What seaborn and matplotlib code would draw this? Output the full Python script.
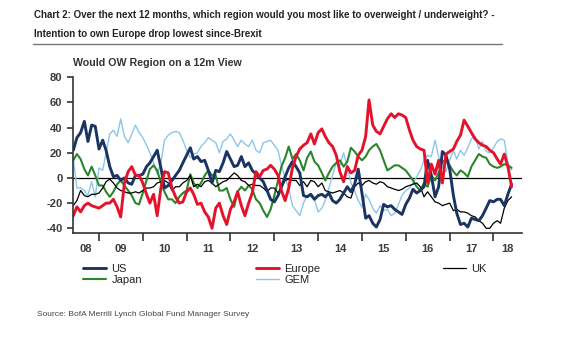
import matplotlib
matplotlib.use("Agg")
import matplotlib.pyplot as plt
import matplotlib.dates as mdates
from matplotlib.lines import Line2D
import pandas as pd
import seaborn as sns

# ---------------- data (monthly, Jun 2008 - Jun 2018) ----------------
dates = pd.date_range("2008-06-01", periods=121, freq="MS")

US = [22, 32, 36, 45, 29, 42, 41, 23, 30, 22,
      9, 1, 2, -2, 0, -4, -5, 2, 2, 3,
      9, 12, 17, 22, 8, -8, -6, -2, 2, 6,
      12, 18, 24, 15, 17, 13, 14, 6, -4, 6,
      5, 12, 21, 15, 9, 10, 17, 9, 12, 6,
      3, 0, -3, -10, -17, -19, -14, -7, 1, 8,
      13, 9, 4, -14, -15, -13, -17, -14, -13, -15,
      -12, -18, -20, -17, -12, -7, -11, -5, 7, -12,
      -32, -30, -36, -39, -33, -21, -23, -22, -25, -27,
      -29, -21, -16, -9, -12, -10, -7, 14, 2, -15,
      -7, 21, 18, 7, -14, -28, -37, -36, -39, -32,
      -33, -34, -30, -24, -18, -19, -17, -17, -22, -13, -5]

Europe = [-30, -23, -27, -22, -20, -22, -23, -24, -22, -20,
          -20, -17, -23, -31, -4, 5, 9, 2, 2, -4,
          -13, -20, -13, -30, -8, 5, 4, -8, -15, -20,
          -19, -11, -8, -13, -21, -20, -27, -31, -40, -24,
          -20, -30, -37, -25, -19, -11, -22, -30, -20, -12,
          5, 1, 6, 7, 10, 7, 2, -10, -18, -8,
          8, 17, 23, 26, 28, 35, 27, 36, 39, 33,
          28, 25, 18, 5, -3, 9, 4, 6, 18, 22,
          33, 62, 42, 37, 35, 41, 47, 51, 48, 51,
          50, 48, 38, 30, 25, 23, 22, -4, 11, 3,
          14, -4, 19, 21, 23, 29, 34, 46, 41, 36,
          31, 28, 26, 25, 22, 20, 15, 11, 19, 9, -7]

UK = [-22, -18, -10, -14, -15, -13, -13, -12, -8, -3,
      -1, -4, -8, -10, -11, -12, -12, -11, -12, -10,
      -8, -8, -7, -4, -3, -2, -4, -10, -7, -7,
      -4, -2, 2, -7, -5, -7, -3, -2, -4, -7,
      -5, -3, -2, 1, 4, 2, -2, -3, -6, -5,
      -6, -6, -8, -11, -8, -8, -12, -8, -2, -1,
      -2, -2, -6, -3, -7, -2, -3, -7, -4, -10,
      -11, -12, -11, -10, -12, -15, -16, -7, -4, -6,
      -3, -2, -4, -5, -3, -4, -7, -8, -9, -10,
      -9, -7, -6, -5, -4, -7, -15, -11, -15, -19,
      -20, -22, -21, -20, -26, -25, -27, -27, -28, -30,
      -31, -34, -36, -40, -40, -36, -34, -36, -24, -18, -15]

Japan = [14, 19, 15, 7, 2, 9, 2, -6, -6, -11,
         -15, -11, -5, -2, -6, -10, -14, -20, -21, -12,
         -2, 7, 10, 6, -4, -11, -17, -17, -20, -15,
         -12, -10, 3, -4, -8, -4, 2, 6, 2, 2,
         -10, -10, -8, -17, -23, -11, -7, -10, -6, -9,
         -17, -20, -26, -31, -25, -14, -2, 9, 16, 25,
         15, 19, 14, 6, 16, 21, 13, 10, 4, -2,
         4, 9, 12, 14, 9, 13, 24, 21, 17, 14,
         17, 22, 25, 27, 22, 14, 6, 8, 10, 10,
         8, 6, 2, -2, -7, -10, -4, -7, 2, -2,
         4, 13, 14, 10, 5, 2, 6, 4, 1, 9,
         14, 19, 17, 16, 11, 9, 8, 9, 11, 10, 8]

GEM = [15, -8, -8, -10, -14, -3, -15, 8, 6, 20,
       35, 38, 33, 47, 33, 28, 35, 42, 36, 32,
       26, 20, 12, 3, 12, 30, 34, 36, 37, 36,
       30, 22, 16, 19, 20, 25, 28, 32, 30, 28,
       20, 29, 31, 35, 30, 25, 30, 27, 25, 30,
       22, 20, 28, 29, 30, 26, 22, 10, 0, -8,
       -22, -26, -30, -20, -14, -15, -17, -27, -24, -18,
       -8, 2, 12, 10, 20, 9, -4, -10, -18, -23,
       -13, -17, -24, -28, -22, -26, -25, -30, -28, -21,
       -14, -10, -8, -4, 1, 6, 14, 18, 17, 30,
       17, 8, 5, 14, 22, 15, 22, 18, 24, 31,
       33, 23, 29, 21, 20, 24, 29, 31, 30, 12, 6]

year_labels = ["08", "09", "10", "11", "12", "13", "14", "15", "16", "17", "18"]
y_ticks = [-40, -20, 0, 20, 40, 60, 80]

title_1 = "Chart 2: Over the next 12 months, which region would you most like to overweight / underweight? -"
title_2 = "Intention to own Europe drop lowest since-Brexit"
subtitle = "Would OW Region on a 12m View"
source = "Source: BofA Merrill Lynch Global Fund Manager Survey"

# ---------------- styling ----------------
colors = {"US": "#1b3461", "Europe": "#e3132b", "UK": "#000000",
          "Japan": "#2b862b", "GEM": "#8cc6ea"}
widths = {"US": 2.1, "Europe": 2.1, "UK": 0.9, "Japan": 1.5, "GEM": 1.0}
draw_order = ["GEM", "Japan", "UK", "US", "Europe"]

df = pd.DataFrame({"date": dates, "US": US, "Europe": Europe, "UK": UK,
                   "Japan": Japan, "GEM": GEM})
long = df.melt(id_vars="date", var_name="region", value_name="value")

sns.set_style("white")
plt.rcParams["font.family"] = ["Liberation Sans", "DejaVu Sans"]

W, H = 584, 340
fig = plt.figure(figsize=(W / 100, H / 100), dpi=100)
ax = fig.add_axes([73.3 / W, 1 - 233.3 / H, (521.7 - 73.3) / W, (233.3 - 77.3) / H])

ax.axhline(0, color="black", lw=0.9, zorder=1)
handles = {}
for name in draw_order:
    sub = long[long["region"] == name]
    sns.lineplot(data=sub, x="date", y="value", color=colors[name],
                 linewidth=widths[name], ax=ax, legend=False, zorder=2)
    handles[name] = ax.lines[-1]

x0 = mdates.date2num(pd.Timestamp("2008-06-01"))
x1 = mdates.date2num(pd.Timestamp("2018-08-24"))
ax.set_xlim(x0, x1)
ax.set_ylim(-44, 80)

# spines
for s in ["top", "right"]:
    ax.spines[s].set_visible(False)
for s in ["left", "bottom"]:
    ax.spines[s].set_color("#333333")
    ax.spines[s].set_linewidth(1.2)
ax.spines["left"].set_bounds(-44, 80)

# y ticks
ax.set_yticks(y_ticks)
ax.set_yticklabels([str(v) for v in y_ticks])
ax.tick_params(axis="y", direction="out", length=4.5, width=1.2, color="#333333",
               pad=3.3, labelsize=8, labelcolor="#3a3a3a", left=True)

# x ticks: major at year boundaries, labels centred in each year
year_starts = [mdates.date2num(pd.Timestamp(f"{y}-01-01")) for y in range(2009, 2019)]
label_pos = []
for i, lab in enumerate(year_labels):
    yr = 2008 + i
    a = max(mdates.date2num(pd.Timestamp(f"{yr}-01-01")), x0)
    b = min(mdates.date2num(pd.Timestamp(f"{yr + 1}-01-01")), x1)
    label_pos.append((a + b) / 2)
ax.set_xticks(year_starts)
ax.set_xticklabels([])
ax.set_xticks(label_pos, minor=True)
ax.set_xticklabels(year_labels, minor=True)
ax.tick_params(axis="x", which="major", direction="out", length=6, width=1.2,
               color="#333333", bottom=True)
ax.tick_params(axis="x", which="minor", length=0, pad=7.5, labelsize=8,
               labelcolor="#3a3a3a", bottom=True)
for lab in ax.get_xticklabels(minor=True) + ax.get_yticklabels():
    lab.set_fontweight("bold")
ax.set_xlabel("")
ax.set_ylabel("")
ax.grid(False)

# titles
tfam = ["Liberation Sans", "DejaVu Sans"]
fig.text(34 / W, 1 - 15 / H, title_1, family=tfam, fontsize=7.0, fontweight="bold",
         color="#222222", va="center", ha="left")
fig.text(34 / W, 1 - 34 / H, title_2, family=tfam, fontsize=7.0, fontweight="bold",
         color="#222222", va="center", ha="left")
fig.add_artist(Line2D([33 / W, 502 / W], [1 - 43.5 / H, 1 - 43.5 / H],
                      color="#777777", lw=1.0))
fig.text(73 / W, 1 - 62.5 / H, subtitle, fontsize=7.7, fontweight="bold",
         color="#333333", va="center", ha="left")
fig.text(37 / W, 1 - 314.3 / H, source, fontsize=6, color="#444444",
         va="center", ha="left")

# legend: three columns placed individually
leg_kw = dict(loc="upper left", frameon=False, borderpad=0, borderaxespad=0,
              handlelength=2.1, handletextpad=0.45, labelspacing=0.15,
              fontsize=8, labelcolor="#222222")
cols = [(["US", "Japan"], 83), (["Europe", "GEM"], 256), (["UK"], 443)]
for names, xpx in cols:
    fig.legend([handles[n] for n in names], names,
               bbox_to_anchor=(xpx / W, 1 - 263.5 / H), **leg_kw)

fig.savefig("out.png", dpi=100)
